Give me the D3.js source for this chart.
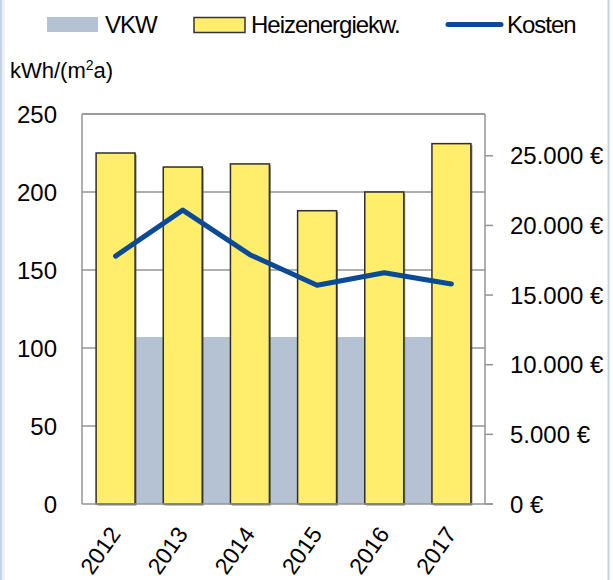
<!DOCTYPE html>
<html>
<head>
<meta charset="utf-8">
<script src="https://cdn.jsdelivr.net/npm/d3@7"></script>
<style>
  html, body { margin: 0; padding: 0; background: #fff; }
  svg { display: block; font-family: "Liberation Sans", Arial, sans-serif; }
</style>
</head>
<body>
<svg id="chart" width="613" height="580"></svg>
<script>
// ---- data ----
const years = ["2012", "2013", "2014", "2015", "2016", "2017"];
const vkw = [107, 107, 107, 107, 107, 107];                 // kWh/(m²a)
const heizenergie = [225, 216, 218, 188, 200, 231];         // kWh/(m²a)
const kosten = [17800, 21100, 17900, 15700, 16600, 15800];  // €
const leftTicks = [0, 50, 100, 150, 200, 250];
const rightTicks = [0, 5000, 10000, 15000, 20000, 25000];
const legendLabels = ["VKW", "Heizenergiekw.", "Kosten"];

// ---- layout ----
const svg = d3.select("#chart");
const L = 82, R = 485, T = 114, B = 504;
const colVKW = "#b5c2d3", colBar = "#ffee6c", colLine = "#0b4a96", colGrid = "#949494";

const x = d3.scaleBand().domain(years).range([L, R]).paddingInner(0.42).paddingOuter(0.21);
const y = d3.scaleLinear().domain([0, 250]).range([B, T]);
const y2 = d3.scaleLinear().domain([0, 28000]).range([B, T]);
const cx = d => x(d) + x.bandwidth() / 2;

// chart-area border
svg.append("rect").attr("x", 1).attr("y", -10).attr("width", 607.5).attr("height", 610)
  .attr("fill", "#fff").attr("stroke", "#c3d3e4").attr("stroke-width", 2);
svg.append("rect").attr("x", 2).attr("y", -10).attr("width", 3).attr("height", 610)
  .attr("fill", "#eef0f2");

// gridlines
svg.append("g").selectAll("line").data(leftTicks.filter(d => d > 0)).join("line")
  .attr("x1", L).attr("x2", R).attr("y1", d => y(d)).attr("y2", d => y(d))
  .attr("stroke", colGrid).attr("stroke-width", 1.3);

// VKW area
const area = d3.area().x((d, i) => cx(years[i])).y0(B).y1(d => y(d));
svg.append("path").datum(vkw).attr("d", area).attr("fill", colVKW);

// bars (shadow + bar)
const bars = svg.append("g");
bars.selectAll("rect.sh").data(heizenergie).join("rect").attr("class", "sh")
  .attr("x", (d, i) => x(years[i]) + 1.5).attr("y", d => y(d) + 1.5)
  .attr("width", x.bandwidth()).attr("height", d => B - y(d))
  .attr("fill", "#5a5432").attr("opacity", 0.7);
bars.selectAll("rect.b").data(heizenergie).join("rect").attr("class", "b")
  .attr("x", (d, i) => x(years[i])).attr("y", d => y(d))
  .attr("width", x.bandwidth()).attr("height", d => B - y(d))
  .attr("fill", colBar).attr("stroke", "#2e2e2e").attr("stroke-width", 1.5);

// axis frame
const frame = svg.append("g").attr("stroke", colGrid).attr("stroke-width", 1.5).attr("fill", "none");
frame.append("line").attr("x1", L).attr("x2", L).attr("y1", T).attr("y2", B);
frame.append("line").attr("x1", L).attr("x2", R).attr("y1", T).attr("y2", T);
frame.append("line").attr("x1", R).attr("x2", R).attr("y1", T).attr("y2", B);
frame.append("line").attr("x1", L).attr("x2", R + 8).attr("y1", B).attr("y2", B);

// right axis ticks
svg.append("g").selectAll("line").data(rightTicks).join("line")
  .attr("x1", R).attr("x2", R + 8).attr("y1", d => y2(d)).attr("y2", d => y2(d))
  .attr("stroke", colGrid).attr("stroke-width", 1.5);

// line
const line = d3.line().x((d, i) => cx(years[i])).y(d => y2(d));
svg.append("path").datum(kosten).attr("d", line).attr("fill", "none")
  .attr("stroke", colLine).attr("stroke-width", 5).attr("stroke-linejoin", "round").attr("stroke-linecap", "round");

// left tick labels
svg.append("g").selectAll("text").data(leftTicks).join("text")
  .attr("x", 57).attr("y", d => y(d)).attr("dy", "0.36em")
  .attr("text-anchor", "end").attr("font-size", 24).attr("fill", "#000").text(d => d);

// right tick labels
const fmt = d => d3.format(",")(d).replace(/,/g, ".") + " €";
svg.append("g").selectAll("text").data(rightTicks).join("text")
  .attr("x", 510).attr("y", d => y2(d)).attr("dy", "0.36em")
  .attr("text-anchor", "start").attr("font-size", 24).attr("fill", "#000").text(fmt);

// x labels
svg.append("g").selectAll("text").data(years).join("text")
  .attr("transform", d => `translate(${cx(d) + 6},${534}) rotate(-55)`)
  .attr("text-anchor", "end").attr("font-size", 23).attr("fill", "#000").text(d => d);

// axis title
const title = svg.append("text").attr("x", 10).attr("y", 77.5).attr("font-size", 22).attr("fill", "#000");
title.append("tspan").text("kWh/(m");
title.append("tspan").attr("font-size", 14).attr("dy", -8).text("2");
title.append("tspan").attr("dy", 8).text("a)");

// legend
const lg = svg.append("g");
lg.append("rect").attr("x", 47).attr("y", 17).attr("width", 51).attr("height", 15).attr("fill", colVKW);
lg.append("rect").attr("x", 194).attr("y", 17.5).attr("width", 51).attr("height", 15)
  .attr("fill", colBar).attr("stroke", "#333").attr("stroke-width", 1.5);
lg.append("line").attr("x1", 448).attr("x2", 501).attr("y1", 24.5).attr("y2", 24.5)
  .attr("stroke", colLine).attr("stroke-width", 5).attr("stroke-linecap", "round");
const lx = [105, 251, 507];
lg.selectAll("text").data(legendLabels).join("text")
  .attr("x", (d, i) => lx[i]).attr("y", 33).attr("font-size", 24).attr("letter-spacing", -1)
  .attr("fill", "#000").text(d => d);
</script>
</body>
</html>
